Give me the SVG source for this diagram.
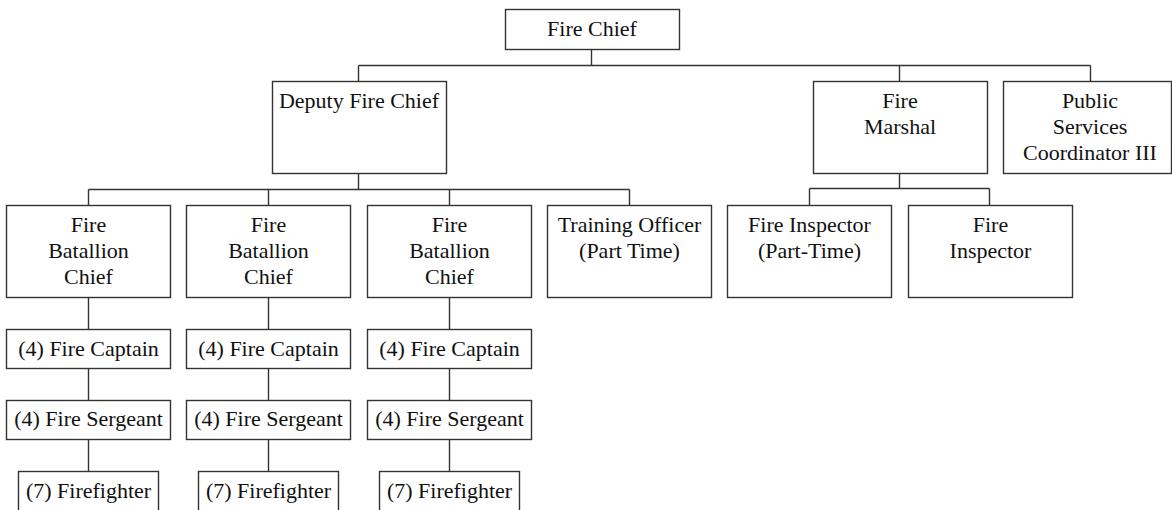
<svg xmlns="http://www.w3.org/2000/svg" width="1172" height="510" viewBox="0 0 1172 510">
  <style>
    rect.box { fill: #ffffff; stroke: #333333; stroke-width: 1.4; }
    .lbl { font-family: "Liberation Serif", "Times New Roman", serif; font-size: 22px; fill: #111111; text-anchor: middle; }
    #connectors path { fill: none; stroke: #333333; stroke-width: 1.4; }
  </style>
  <rect width="1172" height="510" fill="#ffffff"/>

  <!-- reporting lines -->
  <g id="connectors">
    <path d="M591.5 49 V65.5 M358.5 65.5 H1090.5 M358.5 65.5 V81 M899.5 65.5 V81 M1090.5 65.5 V81"/>
    <path d="M358.5 173 V189.5 M88.5 189.5 H629.5 M88.5 189.5 V205 M268.5 189.5 V205 M449.5 189.5 V205 M629.5 189.5 V205"/>
    <path d="M899.5 173 V188.5 M809.5 188.5 H989.5 M809.5 188.5 V205 M989.5 188.5 V205"/>
    <path d="M88.5 297 V329 M88.5 368 V400 M88.5 439 V471"/>
    <path d="M268.5 297 V329 M268.5 368 V400 M268.5 439 V471"/>
    <path d="M449.5 297 V329 M449.5 368 V400 M449.5 439 V471"/>
  </g>

  <g id="fire-chief">
    <rect class="box" x="505.5" y="9.5" width="174" height="40"/>
    <text class="lbl" x="592" y="36">Fire Chief</text>
  </g>

  <g id="deputy-fire-chief">
    <rect class="box" x="272.5" y="81.5" width="174" height="92"/>
    <text class="lbl" x="359" y="108">Deputy Fire Chief</text>
  </g>

  <g id="fire-marshal">
    <rect class="box" x="813.5" y="81.5" width="174" height="92"/>
    <text class="lbl" x="900" y="108">Fire</text>
    <text class="lbl" x="900" y="134">Marshal</text>
  </g>

  <g id="public-services-coordinator">
    <rect class="box" x="1003.5" y="81.5" width="168" height="92"/>
    <text class="lbl" x="1090" y="108">Public</text>
    <text class="lbl" x="1090" y="134">Services</text>
    <text class="lbl" x="1090" y="160">Coordinator III</text>
  </g>

  <g id="batallion-chief-1">
    <rect class="box" x="6.5" y="205.5" width="164" height="92"/>
    <text class="lbl" x="88.5" y="232">Fire</text>
    <text class="lbl" x="88.5" y="258">Batallion</text>
    <text class="lbl" x="88.5" y="284">Chief</text>
  </g>

  <g id="batallion-chief-2">
    <rect class="box" x="186.5" y="205.5" width="164" height="92"/>
    <text class="lbl" x="268.5" y="232">Fire</text>
    <text class="lbl" x="268.5" y="258">Batallion</text>
    <text class="lbl" x="268.5" y="284">Chief</text>
  </g>

  <g id="batallion-chief-3">
    <rect class="box" x="367.5" y="205.5" width="164" height="92"/>
    <text class="lbl" x="449.5" y="232">Fire</text>
    <text class="lbl" x="449.5" y="258">Batallion</text>
    <text class="lbl" x="449.5" y="284">Chief</text>
  </g>

  <g id="training-officer">
    <rect class="box" x="547.5" y="205.5" width="164" height="92"/>
    <text class="lbl" x="629.5" y="232">Training Officer</text>
    <text class="lbl" x="629.5" y="258">(Part Time)</text>
  </g>

  <g id="fire-inspector-part-time">
    <rect class="box" x="727.5" y="205.5" width="164" height="92"/>
    <text class="lbl" x="809.5" y="232">Fire Inspector</text>
    <text class="lbl" x="809.5" y="258">(Part-Time)</text>
  </g>

  <g id="fire-inspector">
    <rect class="box" x="908.5" y="205.5" width="164" height="92"/>
    <text class="lbl" x="990.5" y="232">Fire</text>
    <text class="lbl" x="990.5" y="258">Inspector</text>
  </g>

  <!-- company ranks under each batallion -->
  <g id="fire-captain-1">
    <rect class="box" x="6.5" y="329.5" width="164" height="39"/>
    <text class="lbl" x="88.5" y="356">(4) Fire Captain</text>
  </g>
  <g id="fire-captain-2">
    <rect class="box" x="186.5" y="329.5" width="164" height="39"/>
    <text class="lbl" x="268.5" y="356">(4) Fire Captain</text>
  </g>
  <g id="fire-captain-3">
    <rect class="box" x="367.5" y="329.5" width="164" height="39"/>
    <text class="lbl" x="449.5" y="356">(4) Fire Captain</text>
  </g>

  <g id="fire-sergeant-1">
    <rect class="box" x="6.5" y="400.5" width="164" height="39"/>
    <text class="lbl" x="88.5" y="426">(4) Fire Sergeant</text>
  </g>
  <g id="fire-sergeant-2">
    <rect class="box" x="186.5" y="400.5" width="164" height="39"/>
    <text class="lbl" x="268.5" y="426">(4) Fire Sergeant</text>
  </g>
  <g id="fire-sergeant-3">
    <rect class="box" x="367.5" y="400.5" width="164" height="39"/>
    <text class="lbl" x="449.5" y="426">(4) Fire Sergeant</text>
  </g>

  <g id="firefighter-1">
    <rect class="box" x="18.5" y="471.5" width="140" height="46"/>
    <text class="lbl" x="88.5" y="498">(7) Firefighter</text>
  </g>
  <g id="firefighter-2">
    <rect class="box" x="198.5" y="471.5" width="140" height="46"/>
    <text class="lbl" x="268.5" y="498">(7) Firefighter</text>
  </g>
  <g id="firefighter-3">
    <rect class="box" x="379.5" y="471.5" width="140" height="46"/>
    <text class="lbl" x="449.5" y="498">(7) Firefighter</text>
  </g>
</svg>
